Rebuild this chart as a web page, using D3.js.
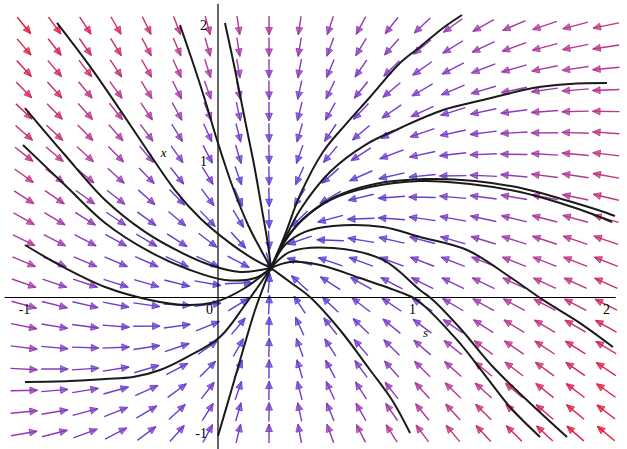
<!DOCTYPE html>
<html>
<head>
<meta charset="utf-8">
<script src="https://cdn.jsdelivr.net/npm/d3@7"></script>
<style>
  body { margin: 0; background: #fff; }
  svg text { font-family: "Liberation Serif", "DejaVu Serif", serif; }
</style>
</head>
<body>
<script>
const width = 627, height = 449;

// arrow grid, 20 x 20 points over s = -1..2, x = -1..2
const sGrid = [-1, -0.842, -0.684, -0.526, -0.368, -0.211, -0.053, 0.105, 0.263, 0.421,
               0.579, 0.737, 0.895, 1.053, 1.211, 1.368, 1.526, 1.684, 1.842, 2];
const xGrid = [-1, -0.842, -0.684, -0.526, -0.368, -0.211, -0.053, 0.105, 0.263, 0.421,
               0.579, 0.737, 0.895, 1.053, 1.211, 1.368, 1.526, 1.684, 1.842, 2];

// field: s' = kS (s0 - s),  x' = kXs (s - s0) - kXx (x - x0)
const eqS = 0.27;
const eqX = 0.23;
const kS = 1.0;
const kXs = 0.58;
const kXx = 0.85;

const sTicks = [-1, 0, 1, 2];
const xTicks = [-1, 1, 2];

// solution curves, [s, x] points
const curves = [
  [[-0.83, 2.02], [-0.66, 1.70], [-0.505, 1.38], [-0.366, 1.085], [-0.222, 0.79], [-0.093, 0.585], [0.062, 0.40], [0.191, 0.276], [0.273, 0.217]],
  [[-0.995, 1.393], [-0.789, 1.048], [-0.582, 0.717], [-0.376, 0.482], [-0.196, 0.335], [-0.041, 0.239], [0.113, 0.188], [0.273, 0.217]],
  [[-1.005, 1.121], [-0.789, 0.827], [-0.582, 0.548], [-0.351, 0.335], [-0.144, 0.202], [0.036, 0.129], [0.191, 0.143], [0.273, 0.217]],
  [[-0.995, 0.386], [-0.789, 0.217], [-0.582, 0.077], [-0.351, -0.018], [-0.170, -0.055], [-0.015, -0.033], [0.139, 0.070], [0.273, 0.217]],
  [[-0.995, -0.621], [-0.763, -0.614], [-0.582, -0.599], [-0.438, -0.585], [-0.299, -0.533], [-0.160, -0.438], [0.010, -0.290], [0.139, -0.055], [0.273, 0.217]],
  [[0, -1.018], [0.062, -0.717], [0.129, -0.386], [0.191, -0.092], [0.242, 0.107], [0.273, 0.217]],
  [[0.036, 2.018], [0.088, 1.673], [0.139, 1.305], [0.186, 0.974], [0.227, 0.643], [0.258, 0.386], [0.273, 0.217]],
  [[-0.196, 2.004], [-0.134, 1.746], [-0.067, 1.452], [-0.005, 1.158], [0.072, 0.827], [0.155, 0.533], [0.227, 0.335], [0.273, 0.217]],
  [[1.258, 2.077], [1.160, 1.982], [1.041, 1.842], [0.938, 1.724], [0.784, 1.474], [0.655, 1.268], [0.541, 1.070], [0.423, 0.754], [0.345, 0.460], [0.273, 0.217]],
  [[2.005, 1.577], [1.814, 1.570], [1.624, 1.540], [1.366, 1.452], [1.160, 1.379], [0.938, 1.246], [0.758, 1.121], [0.577, 0.923], [0.423, 0.643], [0.335, 0.401], [0.273, 0.217]],
  [[0.273, 0.217], [0.330, 0.386], [0.423, 0.555], [0.577, 0.717], [0.784, 0.813], [1.041, 0.857], [1.299, 0.835], [1.557, 0.776], [1.763, 0.695], [1.943, 0.607], [2.031, 0.555]],
  [[0.273, 0.217], [0.340, 0.401], [0.438, 0.577], [0.603, 0.739], [0.809, 0.835], [1.067, 0.871], [1.325, 0.857], [1.582, 0.798], [1.789, 0.717], [1.959, 0.643], [2.046, 0.599]],
  [[0.273, 0.217], [0.345, 0.386], [0.448, 0.482], [0.593, 0.526], [0.851, 0.518], [1.041, 0.445], [1.284, 0.349], [1.505, 0.151], [1.675, -0.018], [1.866, -0.188], [2.036, -0.364]],
  [[0.273, 0.217], [0.371, 0.335], [0.593, 0.364], [0.851, 0.276], [1.041, 0.055], [1.108, -0.018], [1.247, -0.224], [1.418, -0.511], [1.608, -0.776], [1.799, -1.026]],
  [[0.273, 0.217], [0.371, 0.261], [0.526, 0.239], [0.732, 0.143], [0.938, 0.040], [1.026, -0.018], [1.232, -0.312], [1.376, -0.570], [1.505, -0.805], [1.660, -1.026]],
  [[0.273, 0.217], [0.371, 0.114], [0.474, 0.004], [0.629, -0.239], [0.784, -0.533], [0.897, -0.754], [0.990, -0.996]]
];

const svg = d3.select("body").append("svg")
  .attr("width", width)
  .attr("height", height);

const sScale = d3.scaleLinear().domain([-1, 2]).range([24, 606]);
const xScale = d3.scaleLinear().domain([-1, 2]).range([433.5, 25.5]);

const cellW = sScale(sGrid[1]) - sScale(sGrid[0]);
const cellH = xScale(xGrid[0]) - xScale(xGrid[1]);

// build the field
const field = [];
sGrid.forEach(s => {
  xGrid.forEach(x => {
    const ds = kS * (eqS - s);
    const dx = kXs * (s - eqS) - kXx * (x - eqX);
    field.push({ s: s, x: x, ds: ds, dx: dx, mag: Math.hypot(ds, dx) });
  });
});

// colour by magnitude: blue (slow) -> purple -> red (fast)
const magExtent = d3.extent(field, d => d.mag);
const magSpan = magExtent[1] - magExtent[0];
const color = d3.scaleLinear()
  .domain([0, 0.4, 0.6, 1].map(t => magExtent[0] + t * magSpan))
  .range(["#4a3ee0", "#7e3cc2", "#b53a93", "#e6182e"])
  .interpolate(d3.interpolateRgb);

const arrowLen = 0.88;
const arrows = svg.append("g");

field.forEach(d => {
  const n = Math.hypot(d.ds, d.dx) || 1;
  const vx = d.ds / n * arrowLen * cellW / 2;
  const vy = -d.dx / n * arrowLen * cellH / 2;
  const cx = sScale(d.s), cy = xScale(d.x);
  const x1 = cx - vx, y1 = cy - vy, x2 = cx + vx, y2 = cy + vy;
  const col = color(d.mag);

  arrows.append("line")
    .attr("x1", x1).attr("y1", y1)
    .attr("x2", x2).attr("y2", y2)
    .attr("stroke", col)
    .attr("stroke-width", 1.4);

  // arrow head
  const len = Math.hypot(x2 - x1, y2 - y1);
  const ux = (x2 - x1) / len, uy = (y2 - y1) / len;
  const hl = 7.5, hw = 3.4;
  const bx = x2 - ux * hl, by = y2 - uy * hl;
  arrows.append("path")
    .attr("d", `M${x2},${y2}L${bx - uy * hw},${by + ux * hw}L${bx + uy * hw},${by - ux * hw}Z`)
    .attr("fill", col)
    .attr("fill-opacity", 0.7)
    .attr("stroke", col)
    .attr("stroke-width", 0.9);
});

// axes
const axisG = svg.append("g");
axisG.append("line")
  .attr("x1", sScale(-1.1)).attr("x2", sScale(2.05))
  .attr("y1", xScale(0)).attr("y2", xScale(0))
  .attr("stroke", "#000").attr("stroke-width", 1.2);
axisG.append("line")
  .attr("x1", sScale(0)).attr("x2", sScale(0))
  .attr("y1", xScale(2.16)).attr("y2", xScale(-1.12))
  .attr("stroke", "#000").attr("stroke-width", 1.2);

const bottomAxis = d3.axisBottom(sScale)
  .tickValues(sTicks)
  .tickSize(0)
  .tickPadding(7)
  .tickFormat(d => String(d));
const gb = svg.append("g")
  .attr("transform", `translate(0,${xScale(0)})`)
  .call(bottomAxis);
gb.select(".domain").remove();
gb.selectAll("text")
  .attr("font-family", "Liberation Serif, serif")
  .attr("font-size", 14)
  .attr("fill", "#000")
  .attr("dx", d => d === 0 ? -9 : 0);

const leftAxis = d3.axisLeft(xScale)
  .tickValues(xTicks)
  .tickSize(0)
  .tickPadding(11)
  .tickFormat(d => String(d));
const gl = svg.append("g")
  .attr("transform", `translate(${sScale(0)},0)`)
  .call(leftAxis);
gl.select(".domain").remove();
gl.selectAll("text")
  .attr("font-family", "Liberation Serif, serif")
  .attr("font-size", 14)
  .attr("fill", "#000");

svg.append("text")
  .attr("x", sScale(-0.28)).attr("y", xScale(1.03))
  .attr("text-anchor", "middle")
  .attr("font-style", "italic")
  .attr("font-size", 13)
  .text("x");
svg.append("text")
  .attr("x", sScale(1.07)).attr("y", xScale(-0.29))
  .attr("text-anchor", "middle")
  .attr("font-style", "italic")
  .attr("font-size", 13)
  .text("s");

// solution curves
const line = d3.line()
  .x(d => sScale(d[0]))
  .y(d => xScale(d[1]))
  .curve(d3.curveCatmullRom.alpha(0.5));

svg.append("g")
  .selectAll("path")
  .data(curves)
  .join("path")
  .attr("d", line)
  .attr("fill", "none")
  .attr("stroke", "#1a1a1a")
  .attr("stroke-width", 2);
</script>
</body>
</html>
